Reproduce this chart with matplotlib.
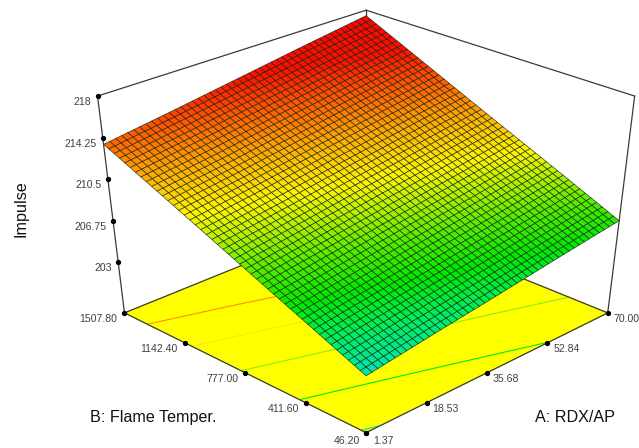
import numpy as np
import matplotlib
matplotlib.use('Agg')
import matplotlib.pyplot as plt
from matplotlib.colors import LinearSegmentedColormap, Normalize
from matplotlib.lines import Line2D
from mpl_toolkits.mplot3d import proj3d

plt.rcParams['font.family'] = ['Liberation Sans', 'DejaVu Sans']

# Values
a_ticks = [1.37, 18.53, 35.68, 52.84, 70.00]
a_labels = ['1.37', '18.53', '35.68', '52.84', '70.00']
b_ticks = [46.20, 411.60, 777.00, 1142.40, 1507.80]
b_labels = ['46.20', '411.60', '777.00', '1142.40', '1507.80']
z_ticks = [203, 206.75, 210.5, 214.25, 218]
z_labels = ['203', '206.75', '210.5', '214.25', '218']
# Impulse read at each tick crossing: rows follow A, columns follow B
impulse = [
    [203.05, 205.75, 208.45, 211.15, 213.80],
    [204.00, 206.65, 209.35, 212.00, 214.70],
    [204.90, 207.60, 210.30, 212.95, 215.65],
    [205.85, 208.50, 211.20, 213.90, 216.60],
    [206.75, 209.45, 212.10, 214.80, 217.50],
]
contour_levels = [203.25, 205.8, 208.35, 210.6, 212.7]

# Camera and layout fitted to the reference's box corners
ELEV, FOCAL, ZASP, Z_FLOOR = 34.5, 0.6, 1.025, 197.5
SX, TX, SY, TY = 3297.1, 366.1, -2346.0, 210.2
Z_AXIS_BASE = 198.45  # the reference spaces its axis ticks evenly on screen from this base

fig = plt.figure(figsize=(6.39, 4.48), dpi=100, facecolor='white')
ax = fig.add_axes([0, 0, 1, 1], projection='3d', computed_zorder=False)
ax.apply_aspect = lambda position=None: None
ax.set_axis_off()
ax.set_xlim(min(a_ticks), max(a_ticks))
ax.set_ylim(min(b_ticks), max(b_ticks))
ax.set_zlim(Z_FLOOR, max(z_ticks))
ax.view_init(elev=ELEV, azim=-135)
ax.set_proj_type('persp', focal_length=FOCAL)
ax.set_box_aspect((1, 1, ZASP))
ax.viewLim.intervalx = ((0 - TX) / SX, (639 - TX) / SX)
ax.viewLim.intervaly = ((448 - TY) / SY, (0 - TY) / SY)

A0, A1, B0, B1 = a_ticks[0], a_ticks[-1], b_ticks[0], b_ticks[-1]
Ztop = z_ticks[-1]

stops = [(203, (0, 228, 175)), (204.5, (0, 238, 95)), (206, (0, 232, 0)),
         (207.5, (80, 235, 0)), (209, (180, 240, 0)), (210.2, (255, 245, 0)),
         (212, (255, 175, 0)), (213.8, (255, 95, 0)), (215.5, (255, 15, 0)), (218, (255, 0, 0))]
norm = Normalize(203, 218)
cmap = LinearSegmentedColormap.from_list(
    'imp', [((z - 203) / 15, tuple(c / 255 for c in col)) for z, col in stops])

Zt = np.array(impulse)
BT, AT = np.meshgrid(b_ticks, a_ticks)

# floor
ax.plot_surface(np.array([[A0, A0], [A1, A1]]), np.array([[B0, B1], [B0, B1]]),
                np.full((2, 2), Z_FLOOR), color=(1, 1, 0), shade=False,
                linewidth=0, antialiased=False, zorder=1)
# floor contours
for lev in contour_levels:
    ax.contour(AT, BT, Zt, levels=[lev], zdir='z', offset=Z_FLOOR,
               colors=[cmap(norm(lev))], linewidths=0.8, zorder=2)
# box lines behind the surface
LC = '#3a3a3a'
for xs_, ys_, zs_ in [([A0, A1], [B1, B1], [Z_FLOOR, Z_FLOOR]),
                      ([A1, A1], [B0, B1], [Z_FLOOR, Z_FLOOR]),
                      ([A1, A1], [B1, B1], [Z_FLOOR, Ztop])]:
    ax.plot(xs_, ys_, zs_, color=LC, lw=0.9, zorder=2)

# Display mesh: refined from the tick-crossing table only so the fine wireframe can be drawn
N = 48
a_f = np.linspace(A0, A1, N); b_f = np.linspace(B0, B1, N)
Z_rows = np.array([np.interp(b_f, b_ticks, row) for row in Zt])
Z_f = np.array([np.interp(a_f, a_ticks, Z_rows[:, j]) for j in range(N)]).T
Bf, Af = np.meshgrid(b_f, a_f)
ax.plot_surface(Af, Bf, Z_f, facecolors=cmap(norm(Z_f)), rstride=1, cstride=1, shade=False,
                edgecolor=(0.05, 0.12, 0.05, 0.8), linewidth=0.5, antialiased=True, zorder=3)

# front box lines
for xs_, ys_, zs_ in [([A0, A1], [B0, B0], [Z_FLOOR, Z_FLOOR]),
                      ([A0, A0], [B0, B1], [Z_FLOOR, Z_FLOOR]),
                      ([A0, A0], [B1, B1], [Z_FLOOR, Ztop]),
                      ([A1, A1], [B0, B0], [Z_FLOOR, Ztop]),
                      ([A0, A1], [B1, B1], [Ztop, Ztop]),
                      ([A1, A1], [B0, B1], [Ztop, Ztop])]:
    ax.plot(xs_, ys_, zs_, color=LC, lw=0.9, zorder=4)

M = ax.get_proj()
def view(x, y, z):
    vx, vy, _ = proj3d.proj_transform(x, y, z, M)
    return np.array([vx, vy], float)

# The reference spaces tick marks evenly along each projected edge, so each tick is placed
# by its value's fraction between the two projected ends of that edge.
front = view(A0, B0, Z_FLOOR)
right = view(A1, B0, Z_FLOOR)
left = view(A0, B1, Z_FLOOR)
left_top = view(A0, B1, Ztop)

def edge_points(ticks, t0, t1, p0, p1):
    return [p0 + (t - t0) / (t1 - t0) * (p1 - p0) for t in ticks]

a_pts = edge_points(a_ticks, A0, A1, front, right)
b_pts = edge_points(b_ticks, B0, B1, front, left)
z_pts = edge_points(z_ticks, Z_AXIS_BASE, Ztop, left, left_top)

for pts in (a_pts, b_pts, z_pts):
    xy = np.array(pts)
    ax.add_artist(Line2D(xy[:, 0], xy[:, 1], transform=ax.transData, marker='o', ms=2.8,
                         color='k', ls='none', zorder=6))

def label(p, s, dx, dy, ha):
    ax.annotate(s, xy=(p[0], p[1]), xycoords='data', xytext=(dx, -dy), textcoords='offset pixels',
                ha=ha, va='center', fontsize=7.6, color='#404040', annotation_clip=False, zorder=7)

for t, p, s in zip(a_ticks, a_pts, a_labels):
    if t == A0:
        label(p, s, 7, 8, 'left')
    else:
        label(p, s, 6, 6, 'left')
for t, p, s in zip(b_ticks, b_pts, b_labels):
    if t == B0:
        label(p, s, -6, 8, 'right')
    else:
        label(p, s, -7, 6, 'right')
for p, s in zip(z_pts, z_labels):
    label(p, s, -6, 6, 'right')

def ftext(px_, py_, s, **kw):
    fig.text(px_ / 639, 1 - py_ / 448, s, fontsize=11.6, color='#111111', va='center', **kw)
ftext(90, 417, 'B: Flame Temper.', ha='left')
ftext(535, 417, 'A: RDX/AP', ha='left')
ftext(21, 209, 'Impulse', ha='center', rotation=90)

fig.savefig('out.png', dpi=100)
